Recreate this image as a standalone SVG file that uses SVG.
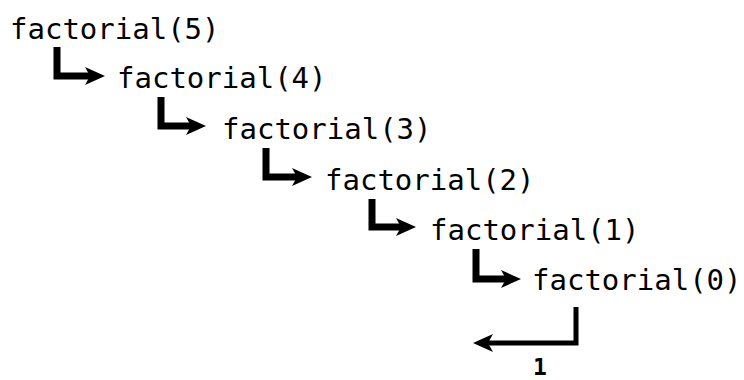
<svg xmlns="http://www.w3.org/2000/svg" width="744" height="380" viewBox="0 0 744 380">
<style>
.t{font-family:"DejaVu Sans Mono","Liberation Mono",monospace;font-size:29px;fill:#000}
.c{fill:none;stroke:#000;stroke-width:7;stroke-linejoin:miter}
.r{fill:none;stroke:#000;stroke-width:5}
.l{font-family:"DejaVu Sans Mono","Liberation Mono",monospace;font-size:23px;font-weight:bold;fill:#000}
</style>
<defs>
<marker id="ah" markerUnits="userSpaceOnUse" markerWidth="22" markerHeight="20" refX="5" refY="10" orient="auto" viewBox="0 0 22 20">
<path d="M0,1 L20,10 L0,19 L5,10 Z" fill="#000"/>
</marker>
</defs>
<rect width="744" height="380" fill="#fff"/>
<g id="connectors">
<path class="c" d="M57,47 V76 H90" marker-end="url(#ah)"/>
<path class="c" d="M161,97 V126 H191" marker-end="url(#ah)"/>
<path class="c" d="M266,148 V177 H297" marker-end="url(#ah)"/>
<path class="c" d="M372,199 V227 H401" marker-end="url(#ah)"/>
<path class="c" d="M476,249 V279 H506" marker-end="url(#ah)"/>
<path class="r" d="M576,307 V343 H488" marker-end="url(#ah)"/>
</g>
<g id="n5"><text class="t" x="10" y="39">factorial(5)</text></g>
<g id="n4"><text class="t" x="117" y="88">factorial(4)</text></g>
<g id="n3"><text class="t" x="222" y="139">factorial(3)</text></g>
<g id="n2"><text class="t" x="325" y="190">factorial(2)</text></g>
<g id="n1"><text class="t" x="430" y="240">factorial(1)</text></g>
<g id="n0"><text class="t" x="532" y="290">factorial(0)</text></g>
<g id="ret"><text class="l" x="533" y="375">1</text></g>
</svg>
